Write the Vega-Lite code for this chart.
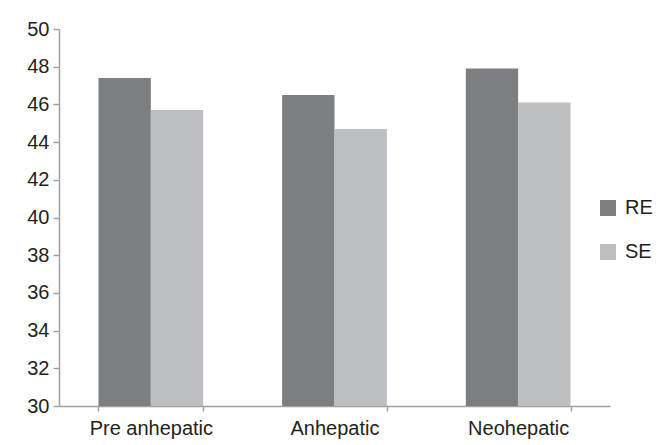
{
  "$schema": "https://vega.github.io/schema/vega-lite/v6.json",
  "width": 551,
  "height": 377,
  "padding": {"left": 26, "top": 19, "right": 5, "bottom": 5},
  "background": "white",
  "data": {
    "values": [
      {"phase": "Pre anhepatic", "series": "RE", "value": 47.4},
      {"phase": "Pre anhepatic", "series": "SE", "value": 45.7},
      {"phase": "Anhepatic", "series": "RE", "value": 46.5},
      {"phase": "Anhepatic", "series": "SE", "value": 44.7},
      {"phase": "Neohepatic", "series": "RE", "value": 47.9},
      {"phase": "Neohepatic", "series": "SE", "value": 46.1}
    ]
  },
  "mark": {"type": "bar", "clip": true},
  "encoding": {
    "x": {
      "field": "phase",
      "type": "nominal",
      "sort": ["Pre anhepatic", "Anhepatic", "Neohepatic"],
      "scale": {"paddingInner": 0.43, "paddingOuter": 0.215},
      "axis": {
        "title": null,
        "labelAngle": 0,
        "labelFont": "Liberation Sans",
        "labelFontSize": 20,
        "labelColor": "#231f20",
        "labelPadding": 7,
        "tickBand": "extent",
        "tickSize": 5,
        "tickColor": "#a0a0a0",
        "domainColor": "#a0a0a0",
        "grid": false
      }
    },
    "xOffset": {"field": "series", "type": "nominal", "scale": {"paddingInner": 0, "paddingOuter": 0}},
    "y": {
      "field": "value",
      "type": "quantitative",
      "scale": {"domain": [30, 50], "zero": false, "nice": false},
      "axis": {
        "title": null,
        "values": [30, 32, 34, 36, 38, 40, 42, 44, 46, 48, 50],
        "labelFont": "Liberation Sans",
        "labelFontSize": 20,
        "labelColor": "#231f20",
        "labelPadding": 4,
        "tickSize": 6,
        "tickColor": "#a0a0a0",
        "domainColor": "#a0a0a0",
        "grid": false
      }
    },
    "y2": {"datum": 30},
    "color": {
      "field": "series",
      "type": "nominal",
      "scale": {"domain": ["RE", "SE"], "range": ["#7d7e82", "#bdbec2"]},
      "legend": {
        "title": null,
        "orient": "none",
        "legendX": 539,
        "legendY": 169,
        "symbolType": "square",
        "symbolSize": 256,
        "symbolStrokeWidth": 0,
        "symbolOpacity": 1,
        "labelFont": "Liberation Sans",
        "labelFontSize": 20,
        "labelColor": "#231f20",
        "labelOffset": 7,
        "rowPadding": 24
      }
    }
  },
  "config": {
    "view": {"stroke": null},
    "axis": {"domainWidth": 1.5, "tickWidth": 1.5}
  }
}
